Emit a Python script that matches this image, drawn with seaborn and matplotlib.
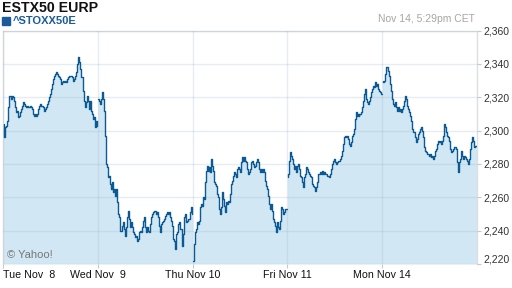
import numpy as np
import pandas as pd
import matplotlib
matplotlib.use("Agg")
import matplotlib.pyplot as plt
from matplotlib.patches import Rectangle
import seaborn as sns

sns.set_theme(style="white")
plt.rcParams["font.family"] = ["Liberation Sans", "DejaVu Sans"]

# ---- data ----
day_labels = ["Tue Nov  8", "Wed Nov  9", "Thu Nov 10", "Fri Nov 11", "Mon Nov 14"]

tue = [2304, 2296, 2302, 2303, 2306, 2314, 2321, 2321, 2319, 2321, 2320, 2318, 2314, 2311, 2312,
       2308, 2309, 2311, 2313, 2315,
       2317, 2316, 2315, 2314, 2315, 2314, 2315, 2314, 2313, 2310, 2309, 2310, 2309, 2310, 2313,
       2315, 2316, 2315, 2315, 2314, 2312, 2313, 2314, 2316, 2318, 2320, 2322, 2325, 2328, 2331,
       2333, 2334, 2335, 2334, 2333, 2332, 2331, 2328, 2329, 2330, 2329, 2330, 2329, 2331, 2332,
       2333, 2333, 2333, 2332, 2330, 2331, 2333, 2335,
       2340, 2344, 2341, 2337, 2332, 2324, 2318, 2314, 2317, 2321, 2318, 2313, 2318, 2312, 2310,
       2307, 2308, 2302, 2306, 2303]

wed = [2319, 2318, 2316, 2319, 2323, 2319, 2312, 2297, 2280, 2278, 2272, 2273, 2268, 2265, 2269,
       2263, 2265, 2261, 2265, 2257, 2250, 2248, 2240, 2243, 2245, 2241, 2237, 2242, 2248, 2252,
       2247, 2242, 2245, 2242, 2239, 2238, 2236, 2237, 2234, 2235, 2239, 2240, 2239, 2242, 2246,
       2248, 2242, 2239, 2242, 2240, 2239, 2244, 2248, 2250, 2251, 2252, 2250, 2251, 2248, 2243,
       2239, 2244, 2245,
       2246, 2247, 2249, 2250, 2251, 2250, 2251, 2248, 2246, 2243, 2235, 2234, 2229, 2238, 2239,
       2244, 2245, 2241, 2241, 2231, 2238, 2248, 2250, 2245, 2246, 2247, 2251, 2254, 2250]

thu = [2222, 2232, 2239, 2241, 2245, 2244, 2246, 2254, 2256, 2255, 2260, 2259, 2269, 2276, 2279,
       2276, 2278, 2275, 2283, 2279, 2276, 2269, 2268, 2267, 2262, 2260, 2253, 2250, 2254, 2263,
       2259, 2255, 2251, 2257, 2256, 2258, 2257, 2262, 2268, 2270, 2273, 2275, 2274, 2272, 2277,
       2278, 2277, 2275, 2281, 2284, 2282, 2284, 2282, 2281, 2277, 2274, 2275, 2277, 2281, 2282,
       2280, 2278, 2279, 2281, 2283, 2281, 2277, 2275, 2277, 2275, 2277, 2275, 2270, 2267, 2265,
       2261, 2256, 2253, 2256, 2252, 2247, 2245, 2243, 2239, 2245, 2242, 2241, 2246, 2254, 2253,
       2250, 2251, 2253, 2253]

fri = [2272, 2274, 2282, 2287, 2285, 2283, 2280, 2277, 2279, 2275, 2279, 2280, 2277, 2273, 2272,
       2269, 2266, 2272, 2274, 2278, 2277, 2275, 2274, 2273, 2272, 2268, 2267, 2266, 2264, 2266,
       2269, 2274, 2274,
       2275, 2274, 2276, 2274, 2275, 2274, 2274, 2273, 2273, 2272, 2274, 2277, 2280, 2282, 2283,
       2281, 2280, 2281, 2282, 2282, 2283, 2285, 2288, 2292, 2296, 2297, 2296, 2297, 2295, 2292,
       2291, 2293, 2297, 2298, 2301, 2307, 2311, 2309, 2310, 2309, 2310, 2310, 2311, 2314, 2318,
       2322, 2325, 2319, 2317, 2316, 2318, 2320, 2323, 2325, 2327, 2326, 2329, 2327, 2328, 2325,
       2324, 2323, 2322]

mon = [2330, 2329, 2330, 2334, 2338, 2338, 2336, 2333, 2328, 2324, 2319, 2316, 2315, 2317, 2314,
       2312, 2314, 2312, 2313, 2311, 2313, 2315, 2318, 2321, 2319, 2315, 2313, 2311, 2309, 2306,
       2301, 2299, 2299, 2296, 2293, 2295, 2298, 2299, 2301, 2302, 2300, 2296, 2290, 2288, 2287,
       2286, 2286, 2285, 2286, 2284, 2285, 2283, 2285, 2288, 2289, 2292, 2294, 2293, 2294, 2292,
       2294, 2297, 2304, 2302, 2299, 2297, 2296, 2294, 2289, 2287, 2288, 2289, 2290, 2290, 2289,
       2281, 2275, 2281, 2283, 2288, 2285, 2283, 2285, 2284, 2283, 2282, 2280, 2283, 2289, 2293,
       2296, 2294, 2290, 2291, 2291]

y_ticks = [2220, 2240, 2260, 2280, 2300, 2320, 2340, 2360]
y_tick_labels = ["2,220", "2,240", "2,260", "2,280", "2,300", "2,320", "2,340", "2,360"]

# ---- build table ----
rows = []
for d, vals in enumerate([tue, wed, thu, fri, mon]):
    n = len(vals)
    for i, v in enumerate(vals):
        rows.append((d, d + (i + 0.5) / n, v))
df = pd.DataFrame(rows, columns=["day", "t", "price"])

LINE = "#0b5a94"
FILL = "#d1e7f3"

fig = plt.figure(figsize=(5.12, 2.88), dpi=100)
ax = fig.add_axes([3 / 512, 1 - 264 / 288, 474 / 512, 233.5 / 288])

ax.fill_between(df["t"], y_ticks[0], df["price"], color=FILL, lw=0, zorder=1, step="mid")
sns.lineplot(data=df, x="t", y="price", units="day", estimator=None,
             color=LINE, lw=1.0, ax=ax, zorder=3, drawstyle="steps-mid")

ax.set_xlim(0, 5)
ax.set_ylim(y_ticks[0], y_ticks[-1])
ax.set_xlabel("")
ax.set_ylabel("")

ax.yaxis.tick_right()
ax.set_yticks(y_ticks, y_tick_labels)
ax.set_xticks(range(len(day_labels)), day_labels)

ax.set_axisbelow(False)
ax.grid(True, color="#9db4c8", alpha=0.25, lw=1)

for s in ["left", "top", "right"]:
    ax.spines[s].set_color("#dcdfe3")
    ax.spines[s].set_linewidth(1)
ax.spines["bottom"].set_visible(False)

ax.tick_params(axis="y", right=True, left=False, length=3, width=0.8, color="#c8c8c8",
               labelsize=7.5, labelcolor="#333333", pad=1.5)
ax.tick_params(axis="x", bottom=True, length=3, width=0.8, color="#c8c8c8",
               labelsize=7.7, labelcolor="#111111", pad=1.5)
ax.get_xticklabels()[0].set_ha("left")
ax.get_yticklabels()[0].set_va("bottom")

# ---- header texts ----
fig.text(2 / 512, 1 - 8 / 288, "ESTX50 EURP", fontsize=10.2, fontweight="bold",
         color="#111111", ha="left", va="center")
fig.patches.append(Rectangle((2 / 512, 1 - 25 / 288), 7.5 / 512, 8 / 288,
                             transform=fig.transFigure, color="#1a5c99"))
fig.text(13 / 512, 1 - 21 / 288, "^STOXX50E", fontsize=8, fontweight="bold", color="#1a5c99",
         ha="left", va="center")
fig.text(475 / 512, 1 - 19.5 / 288, "Nov 14, 5:29pm CET", fontsize=7.5, color="#a6a6a6",
         ha="right", va="center")
ax.text(0.009, (264 - 255.5) / 233.5, "© Yahoo!",
        transform=ax.transAxes, fontsize=8, color="#777777", ha="left", va="center")

fig.savefig("out.png", dpi=100)
